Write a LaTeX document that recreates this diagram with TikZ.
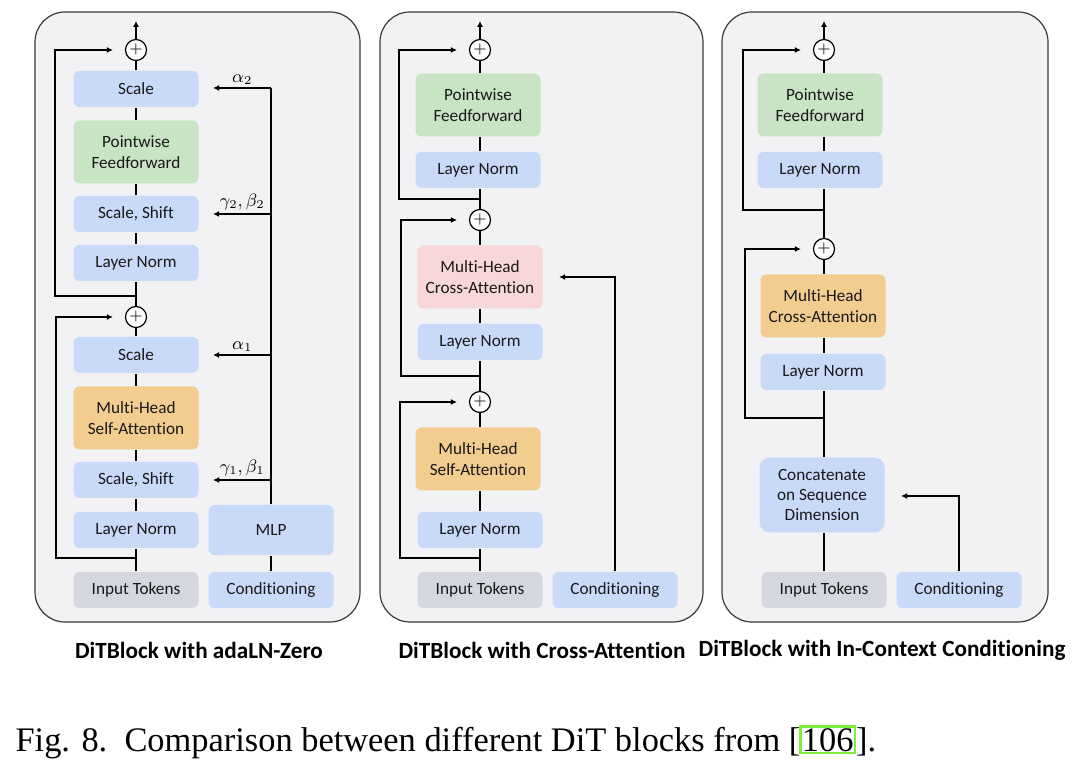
\documentclass[tikz,border=0pt]{standalone}
\usepackage{fontspec}
\usetikzlibrary{arrows.meta,positioning}
\newfontfamily\boxfont[Ligatures=NoCommon]{Carlito}
\newfontfamily\capfont{Liberation Serif}
\definecolor{panelbg}{HTML}{F2F2F4}
\definecolor{panelrim}{HTML}{3A3A3A}
\definecolor{bluebox}{HTML}{C9DAF8}
\definecolor{greenbox}{HTML}{C9E3C5}
\definecolor{orangebox}{HTML}{F2CD8F}
\definecolor{pinkbox}{HTML}{F7D7D7}
\definecolor{graybox}{HTML}{D5D7E0}
\definecolor{linkgreen}{HTML}{7CF03C}
\tikzset{
	blk/.style={rounded corners=3pt, minimum width=62.5pt, minimum height=18pt, inner sep=0pt,
		align=center, text=black!90, font=\boxfont\fontsize{8.6}{10.2}\selectfont},
	blk2/.style={blk, minimum height=31.5pt},
	plus/.style={circle, draw, fill=white, minimum size=10.5pt, inner sep=0pt, font=\fontsize{8}{8}\selectfont},
	arr/.style={-{Latex[length=3pt,width=3pt]}},
	panel/.style={draw=panelrim, fill=panelbg, line width=0.6pt, rounded corners=15pt},
	ttl/.style={font=\boxfont\bfseries\fontsize{11.6}{13}\selectfont},
	lbl/.style={font=\fontsize{8.6}{10}\selectfont, inner sep=1.5pt},
	captxt/.style={font=\capfont\fontsize{17.2}{20}\selectfont}
}
\begin{document}
\begin{tikzpicture}[x=0.5pt,y=-0.5pt,line width=0.6pt]
			\useasboundingbox (0,0) rectangle (1080,779);
			
			\draw[panel] (35,12) rectangle (360,622);
			\draw[panel] (380,12) rectangle (703,622);
			\draw[panel] (722,12) rectangle (1048,622);
			
			% adaLN-Zero
			\node[plus] (p1a) at (136,50) {+};
			\coordinate (o1) at (136,21);
			\node[blk,fill=bluebox] (sc1b) at (136,89) {Scale};
			\node[blk2,fill=greenbox] (ff1) at (136,152) {Pointwise\\Feedforward};
			\node[blk,fill=bluebox] (ss1b) at (136,214) {Scale, Shift};
			\node[blk,fill=bluebox] (ln1b) at (136,263) {Layer Norm};
			\coordinate (j1b) at (136,296);
			\coordinate (r1b) at (55,296);
			\node[plus] (p1b) at (136,317) {+};
			\node[blk,fill=bluebox] (sc1a) at (136,355) {Scale};
			\node[blk2,fill=orangebox] (sa1) at (136,418) {Multi-Head\\Self-Attention};
			\node[blk,fill=bluebox] (ss1a) at (136,480) {Scale, Shift};
			\node[blk,fill=bluebox] (ln1a) at (136,530) {Layer Norm};
			\coordinate (j1a) at (136,558);
			\coordinate (r1a) at (56,558);
			\node[blk,fill=graybox] (in1) at (136,590) {Input Tokens};
			\node[blk,fill=bluebox,minimum height=25pt] (mlp1) at (271,530) {MLP};
			\node[blk,fill=bluebox] (cd1) at (271,590) {Conditioning};
			\coordinate (k1d) at (271,88);
			\coordinate (k1c) at (271,214);
			\coordinate (k1b) at (271,355);
			\coordinate (k1a) at (271,480);
			%
			\draw (in1) -- (ln1a) -- (ss1a) -- (sa1) -- (sc1a) -- (p1b) -- (ln1b) -- (ss1b) -- (ff1) -- (sc1b) -- (p1a);
			\draw[arr] (p1a) -- (o1);
			\draw[arr,shorten >=6pt] (j1a) -- (r1a) |- (p1b);
			\draw[arr,shorten >=6pt] (j1b) -- (r1b) |- (p1a);
			\draw (cd1) -- (mlp1) -- (k1d);
			\draw[arr,shorten >=7pt] (k1d) -- node[lbl,above,pos=0.4] {$\alpha_2$} (sc1b.east |- k1d);
			\draw[arr,shorten >=7pt] (k1c) -- node[lbl,above,pos=0.4] {$\gamma_2,\beta_2$} (ss1b);
			\draw[arr,shorten >=7pt] (k1b) -- node[lbl,above,pos=0.4] {$\alpha_1$} (sc1a);
			\draw[arr,shorten >=7pt] (k1a) -- node[lbl,above,pos=0.4] {$\gamma_1,\beta_1$} (ss1a);
			
			% Cross-Attention
			\node[plus] (p2a) at (480,50) {+};
			\coordinate (o2) at (480,21);
			\node[blk2,fill=greenbox] (ff2) at (478,105) {Pointwise\\Feedforward};
			\node[blk,fill=bluebox] (ln2c) at (478,170) {Layer Norm};
			\coordinate (j2c) at (480,199);
			\coordinate (r2c) at (399,199);
			\node[plus] (p2b) at (480,220) {+};
			\node[blk2,fill=pinkbox] (ca2) at (480,277) {Multi-Head\\Cross-Attention};
			\node[blk,fill=bluebox] (ln2b) at (480,342) {Layer Norm};
			\coordinate (j2b) at (480,376);
			\coordinate (r2b) at (401,376);
			\node[plus] (p2c) at (480,402) {+};
			\node[blk2,fill=orangebox] (sa2) at (478,459) {Multi-Head\\Self-Attention};
			\node[blk,fill=bluebox] (ln2a) at (480,530) {Layer Norm};
			\coordinate (j2a) at (480,558);
			\coordinate (r2a) at (400,558);
			\node[blk,fill=graybox] (in2) at (480,590) {Input Tokens};
			\node[blk,fill=bluebox] (cd2) at (615,590) {Conditioning};
			\coordinate (k2) at (615,277);
			%
			\draw (in2) -- (ln2a) -- (sa2.south -| in2) (sa2.north -| in2) -- (p2c) -- (ln2b) -- (ca2) -- (p2b) -- (ln2c.south -| p2b) (ln2c.north -| p2b) -- (ff2.south -| p2b) (ff2.north -| p2b) -- (p2a);
			\draw[arr] (p2a) -- (o2);
			\draw[arr,shorten >=6pt] (j2a) -- (r2a) |- (p2c);
			\draw[arr,shorten >=6pt] (j2b) -- (r2b) |- (p2b);
			\draw[arr,shorten >=6pt] (j2c) -- (r2c) |- (p2a);
			\draw[arr,shorten >=8pt] (cd2) -- (k2) -- (ca2);
			
			% In-Context Conditioning
			\node[plus] (p3a) at (824,50) {+};
			\coordinate (o3) at (824,21);
			\node[blk2,fill=greenbox] (ff3) at (820,105) {Pointwise\\Feedforward};
			\node[blk,fill=bluebox] (ln3b) at (820,170) {Layer Norm};
			\coordinate (j3b) at (824,210);
			\coordinate (r3b) at (743,210);
			\node[plus] (p3b) at (824,249) {+};
			\node[blk2,fill=orangebox] (ca3) at (823,306) {Multi-Head\\Cross-Attention};
			\node[blk,fill=bluebox] (ln3a) at (823,372) {Layer Norm};
			\coordinate (j3a) at (824,418);
			\coordinate (r3a) at (745,418);
			\node[blk,fill=bluebox,minimum height=37.5pt,rounded corners=5pt] (cc3) at (822,495) {Concatenate\\on Sequence\\Dimension};
			\node[blk,fill=graybox] (in3) at (824,590) {Input Tokens};
			\node[blk,fill=bluebox] (cd3) at (959,590) {Conditioning};
			\coordinate (k3) at (959,496);
			%
			\draw (in3) -- (cc3.south -| in3) (cc3.north -| in3) -- (ln3a.south -| in3) (ln3a.north -| in3) -- (ca3.south -| in3) (ca3.north -| in3) -- (p3b) -- (ln3b.south -| p3b) (ln3b.north -| p3b) -- (ff3.south -| p3b) (ff3.north -| p3b) -- (p3a);
			\draw[arr] (p3a) -- (o3);
			\draw[arr,shorten >=6pt] (j3a) -- (r3a) |- (p3b);
			\draw[arr,shorten >=6pt] (j3b) -- (r3b) |- (p3a);
			\draw[arr,shorten >=8pt] (cd3) -- (k3) -- (k3 -| cc3.east);
			
			% titles and caption
			\node[ttl] (t1) at (199,650) {DiTBlock with adaLN-Zero};
			\node[ttl] (t2) at (542,650) {DiTBlock with Cross-Attention};
			\node[ttl] (t3) at (882,650) {DiTBlock with In-Context Conditioning};
			\node[captxt,anchor=base west,inner sep=0pt] (cap) at (15,751) {Fig. 8.\ \ Comparison between different DiT blocks from [};
			\node[captxt,anchor=base west,inner sep=0.8pt,draw=linkgreen,line width=1.4pt] (ref) at ([xshift=-1pt]cap.base east) {106};
			\node[captxt,anchor=base west,inner sep=0pt] (capend) at ([xshift=-0.5pt]ref.base east) {].};
			
\end{tikzpicture}
\end{document}
